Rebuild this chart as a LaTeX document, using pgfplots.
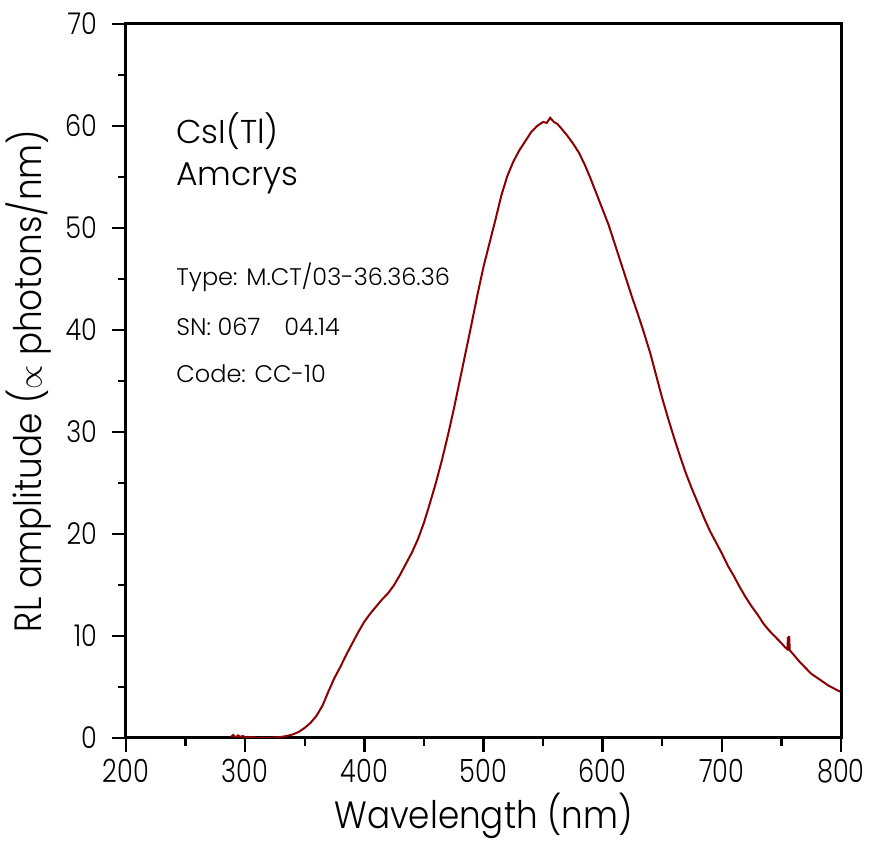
\documentclass[border=0pt]{standalone}
\usepackage{fontspec}
\setmainfont{Poppins}[UprightFont={* Light}]
\usepackage{graphicx}
\usepackage{pgfplots}
\pgfplotsset{compat=1.18}
\usetikzlibrary{calc}
\definecolor{curve}{RGB}{139,0,0}
\pgfplotstableread{
x y
288 0.10
290 0.30
292 0.05
294 0.25
296 0.10
298 0.20
300 0.05
305 0.10
310 0.00
315 0.05
320 0.00
325 0.05
330 0.10
335 0.20
340 0.35
345 0.60
350 1.00
355 1.50
360 2.20
365 3.20
370 4.60
375 5.90
380 7.00
385 8.20
390 9.30
395 10.40
400 11.40
405 12.20
410 12.90
415 13.60
420 14.20
425 15.00
430 16.00
435 17.10
440 18.20
445 19.50
450 21.10
455 23.00
460 25.00
465 27.20
470 29.60
475 32.20
480 35.00
485 37.80
490 40.60
495 43.50
500 46.20
505 48.50
510 50.80
515 53.20
520 55.10
525 56.50
530 57.60
535 58.50
540 59.40
545 60.00
550 60.40
553 60.30
556 60.80
559 60.40
562 60.20
565 59.80
570 59.10
575 58.30
580 57.40
585 56.20
590 54.80
595 53.30
600 51.80
605 50.30
610 48.50
615 46.70
620 44.90
625 43.10
630 41.40
635 39.60
640 37.70
645 35.50
650 33.30
655 31.30
660 29.40
665 27.60
670 25.90
675 24.40
680 23.00
685 21.60
690 20.30
695 19.20
700 18.10
705 16.90
710 15.90
715 14.80
720 13.80
725 12.90
730 12.10
735 11.20
740 10.50
745 9.90
750 9.30
753 8.90
755 8.70
755.5 9.90
756 8.70
756.5 10.00
757 8.60
760 8.20
765 7.50
770 6.90
775 6.30
780 5.90
785 5.50
790 5.10
795 4.80
800 4.50
}\spectrum
\begin{document}
\begin{tikzpicture}
\begin{axis}[
  name=ax,
  scale only axis,
  width=357.5pt, height=357pt,
  xmin=200, xmax=800, ymin=0, ymax=70,
  xtick={200,300,...,800},
  ytick={0,10,...,70},
  minor xtick={250,350,...,750},
  minor ytick={5,15,...,65},
  xtick pos=bottom, ytick pos=left,
  tick align=outside,
  major tick length=7pt, minor tick length=4pt,
  every tick/.style={black, line width=1.2pt},
  axis line style={line width=1.5pt},
  xticklabels={\scalebox{0.8}[1]{200},\scalebox{0.8}[1]{300},\scalebox{0.8}[1]{400},\scalebox{0.8}[1]{500},\scalebox{0.8}[1]{600},\scalebox{0.8}[1]{700},\scalebox{0.8}[1]{800}},
  yticklabels={\scalebox{0.85}[1]{0},\scalebox{0.85}[1]{10},\scalebox{0.85}[1]{20},\scalebox{0.85}[1]{30},\scalebox{0.85}[1]{40},\scalebox{0.85}[1]{50},\scalebox{0.85}[1]{60},\scalebox{0.85}[1]{70}},
  xticklabel style={font=\fontsize{16}{18}\selectfont},
  yticklabel style={font=\fontsize{15}{18}\selectfont, xshift=-4pt},
  xlabel={\scalebox{0.9}[1]{Wavelength (nm)}},
  ylabel={\scalebox{0.9}[1]{RL amplitude ($\propto$ photons/nm)}},
  xlabel style={font=\fontsize{19}{22}\selectfont, yshift=2pt},
  ylabel style={font=\fontsize{19}{22}\selectfont},
]
\addplot[color=curve, line width=1pt, mark=none] table[x=x,y=y] {\spectrum};
\node[anchor=base west, inner sep=0pt, font=\fontsize{16.5}{19}\selectfont] at (axis cs:242,58.3) {CsI(Tl)};
\node[anchor=base west, inner sep=0pt, font=\fontsize{16.5}{19}\selectfont] at (axis cs:242,54.2) {Amcrys};
\node[anchor=base west, inner sep=0pt, font=\fontsize{12}{14}\selectfont] at (axis cs:242,44.4) {Type: M.CT/03-36.36.36};
\node[anchor=base west, inner sep=0pt, font=\fontsize{12}{14}\selectfont] at (axis cs:242,39.5) {SN: 067\hspace{1em}04.14};
\node[anchor=base west, inner sep=0pt, font=\fontsize{12}{14}\selectfont] at (axis cs:242,34.9) {Code: CC-10};
\end{axis}
\begin{axis}[
  scale only axis,
  width=357.5pt, height=357pt,
  xmin=200, xmax=800, ymin=0, ymax=70,
  axis lines=none,
  xtick={200,250,...,800}, ytick={0,5,...,70},
  xtick pos=top, ytick pos=right,
  tick align=inside,
  major tick length=1.2pt,
  every tick/.style={black, line width=1pt},
  xticklabels={}, yticklabels={},
]
\addplot[draw=none] coordinates {(200,0)};
\end{axis}
\draw[line width=1.5pt] (ax.north west) -- (ax.north east) -- (ax.south east);
\pgfresetboundingbox
\path[use as bounding box] ($(ax.south west)+(-63pt,-52pt)$) rectangle ($(ax.north east)+(15.5pt,12pt)$);
\end{tikzpicture}
\end{document}
